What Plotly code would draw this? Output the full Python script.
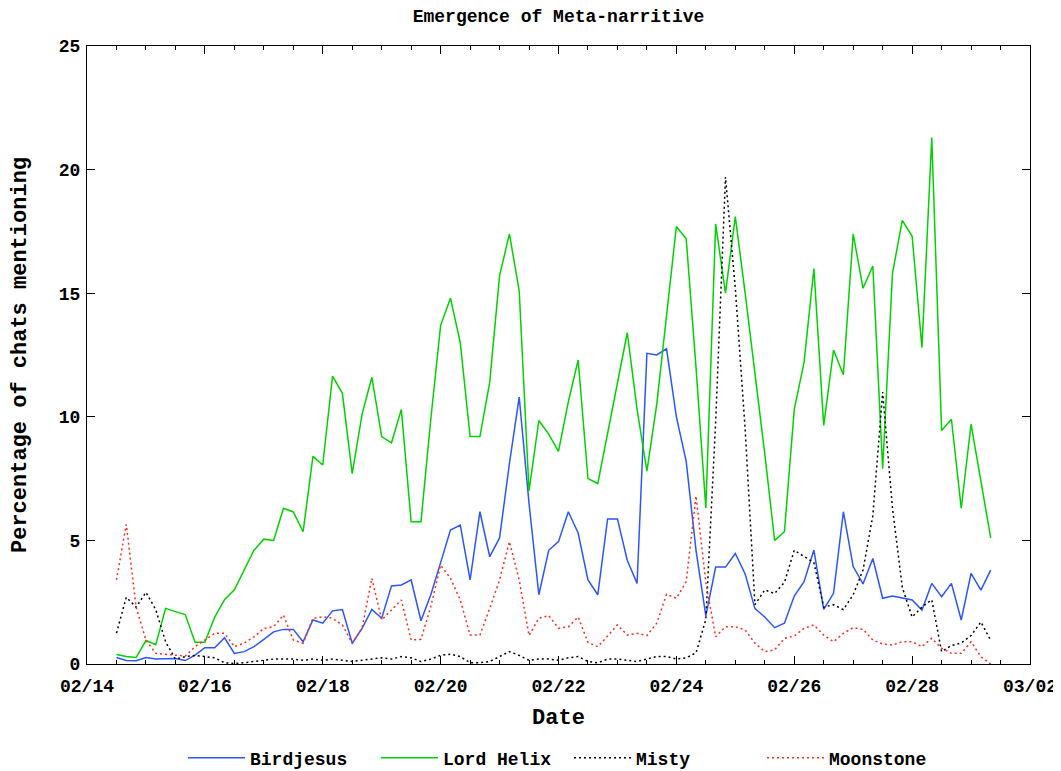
import pandas as pd
import plotly.graph_objects as go

# 4-hourly samples starting 2014-02-14 12:00
start_time = "2014-02-14 12:00"
n_points = 90
times = pd.date_range(start_time, periods=n_points, freq="4h")

birdjesus = [0.26, 0.14, 0.13, 0.26, 0.2, 0.2, 0.22, 0.14, 0.36, 0.66,
             0.66, 1.06, 0.43, 0.5, 0.7, 1.0, 1.3, 1.4, 1.4, 0.9,
             1.78, 1.65, 2.15, 2.2, 0.84, 1.44, 2.21, 1.85, 3.16, 3.2,
             3.4, 1.75, 2.8, 4.1, 5.42, 5.62, 3.4, 6.16, 4.34, 5.1,
             8.1, 10.8, 6.5, 2.8, 4.6, 4.95, 6.16, 5.3, 3.4, 2.8,
             5.87, 5.87, 4.2, 3.26, 12.57, 12.5, 12.75, 10.0, 8.2, 4.6,
             1.95, 3.92, 3.92, 4.47, 3.64, 2.24, 1.9, 1.47, 1.65, 2.75,
             3.33, 4.61, 2.21, 2.86, 6.16, 3.94, 3.24, 4.27, 2.66, 2.75,
             2.66, 2.59, 2.18, 3.26, 2.72, 3.26, 1.78, 3.67, 2.99, 3.8]

lord_helix = [0.38, 0.3, 0.26, 0.95, 0.78, 2.25, 2.12, 2.0, 0.88, 0.88,
              1.9, 2.6, 3.0, 3.8, 4.6, 5.05, 5.0, 6.3, 6.15, 5.35,
              8.4, 8.05, 11.65, 10.95, 7.7, 10.1, 11.6, 9.2, 8.95, 10.3,
              5.75, 5.75, 9.9, 13.7, 14.8, 13.0, 9.2, 9.2, 11.4, 15.7,
              17.4, 15.1, 7.0, 9.85, 9.3, 8.6, 10.6, 12.3, 7.5, 7.3,
              9.3, 11.3, 13.4, 10.3, 7.8, 10.5, 14.0, 17.7, 17.2, 12.0,
              6.3, 17.8, 15.0, 18.1, 15.0, 11.8, 8.5, 5.0, 5.35, 10.3,
              12.2, 16.0, 9.65, 12.7, 11.7, 17.4, 15.2, 16.1, 7.9, 15.8,
              17.95, 17.3, 12.8, 21.3, 9.45, 9.9, 6.3, 9.7, 7.4, 5.1]

misty = [1.25, 2.7, 2.3, 2.9, 2.2, 0.9, 0.2, 0.3, 0.35, 0.3,
         0.25, 0.05, 0.02, 0.05, 0.1, 0.15, 0.2, 0.2, 0.2, 0.15,
         0.2, 0.15, 0.2, 0.15, 0.1, 0.15, 0.2, 0.25, 0.2, 0.3,
         0.25, 0.1, 0.2, 0.35, 0.4, 0.3, 0.05, 0.05, 0.1, 0.3,
         0.5, 0.35, 0.15, 0.2, 0.2, 0.15, 0.25, 0.3, 0.1, 0.05,
         0.2, 0.2, 0.15, 0.1, 0.2, 0.3, 0.3, 0.2, 0.25, 0.45,
         1.8, 9.8, 19.7, 15.2, 9.5, 2.4, 3.0, 2.85, 3.3, 4.6,
         4.35, 4.1, 2.3, 2.4, 2.2, 2.8, 3.8, 6.0, 11.0, 6.3,
         3.1, 1.9, 2.3, 2.6, 0.5, 0.75, 0.85, 1.15, 1.7, 0.95]

moonstone = [3.4, 5.65, 2.3, 0.97, 0.43, 0.39, 0.36, 0.32, 0.7, 0.97,
             1.24, 1.24, 0.7, 0.84, 1.1, 1.44, 1.51, 1.98, 0.97, 0.84,
             1.85, 1.91, 1.85, 1.58, 0.84, 1.44, 3.47, 1.78, 2.18, 2.59,
             0.97, 1.0, 2.32, 4.0, 3.47, 2.59, 1.17, 1.17, 2.25, 3.4,
             4.95, 3.4, 1.15, 1.85, 1.96, 1.45, 1.5, 1.9, 0.87, 0.7,
             1.13, 1.58, 1.17, 1.24, 1.15, 1.65, 2.82, 2.66, 3.33, 6.8,
             3.3, 1.1, 1.51, 1.51, 1.38, 0.84, 0.5, 0.57, 1.04, 1.13,
             1.44, 1.58, 1.17, 0.9, 1.24, 1.47, 1.4, 0.97, 0.81, 0.77,
             0.9, 0.9, 0.7, 1.04, 0.64, 0.43, 0.43, 0.9, 0.3, 0.0]

series_names = ["Birdjesus", "Lord Helix", "Misty", "Moonstone"]
series_values = [birdjesus, lord_helix, misty, moonstone]
series_colors = ["#2a55ff", "#00d200", "#000000", "#ff2a1a"]
series_dash = ["solid", "solid", "2px,3px", "2px,3px"]

x_range = ["2014-02-14", "2014-03-02"]
y_range = [0, 25]

FONT = "Liberation Mono"
FS = 18
# the page body adds an 8px offset; the figure is sized to fill the rest of the window
W, H = 1053, 763

fig = go.Figure()
for name, vals, col, dash in zip(series_names, series_values, series_colors, series_dash):
    fig.add_trace(go.Scatter(
        x=times, y=vals, name=name, mode="lines",
        line=dict(color=col, width=1.5, dash=dash),
    ))

fig.update_layout(
    width=W, height=H,
    margin=dict(l=79, r=31, t=38, b=107),
    paper_bgcolor="white", plot_bgcolor="white",
    font=dict(family=FONT, size=FS, color="black", weight="bold"),
    title=dict(text="Emergence of Meta-narritive", x=0.5, xref="paper",
               xanchor="center", y=1 - 1 / H, yref="container", yanchor="top",
               font=dict(family=FONT, size=FS, color="black", weight="bold")),
    showlegend=True,
    legend=dict(orientation="h", xref="container", yref="container",
                x=561 / W, xanchor="center", y=1 - 750 / H, yanchor="middle",
                itemwidth=57, entrywidth=121, entrywidthmode="pixels",
                font=dict(family=FONT, size=FS, color="black", weight="bold"),
                bgcolor="rgba(0,0,0,0)"),
)

fig.update_xaxes(
    type="date", range=x_range, tickformat="%m/%d",
    tick0="2014-02-14", dtick=2 * 86400000,
    ticks="inside", ticklen=8, tickwidth=1, tickcolor="black",
    minor=dict(dtick=43200000, ticks="inside", ticklen=4, tickwidth=1, tickcolor="black"),
    showline=True, linecolor="black", linewidth=1, mirror="allticks",
    showgrid=False, zeroline=False, ticklabelstandoff=5, automargin=False,
    title=dict(text="Date", standoff=13),
)
fig.update_yaxes(
    range=y_range, dtick=5, tick0=0,
    ticks="inside", ticklen=8, tickwidth=1, tickcolor="black",
    showline=True, linecolor="black", linewidth=1, mirror="allticks",
    showgrid=False, zeroline=False, ticklabelstandoff=2, automargin=False,
    title=dict(text="Percentage of chats mentioning", standoff=26),
)

fig.write_html("out.html")
